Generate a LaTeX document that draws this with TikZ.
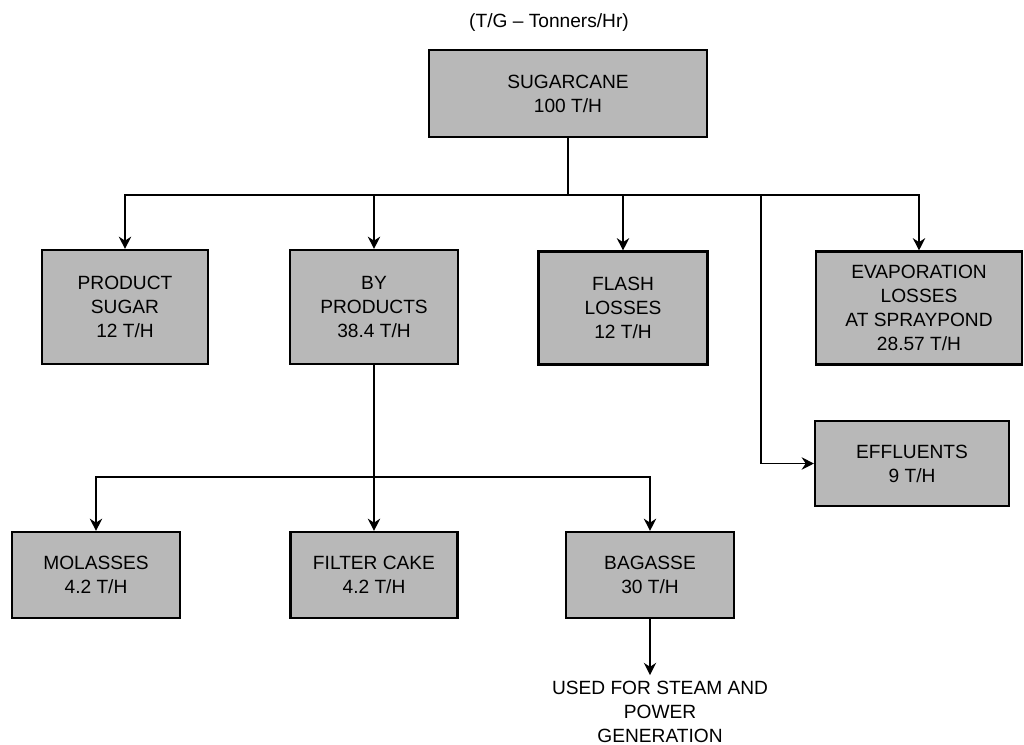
\documentclass[tikz,border=0pt]{standalone}
\usepackage{fontspec}
\setmainfont{Liberation Sans}
\usetikzlibrary{arrows.meta, positioning}

\tikzset{
  flowbox/.style={draw, rectangle, line width=1.2pt, fill=black!28, align=center,
    inner sep=2pt, font=\fontsize{10.9}{13.6}\selectfont},
  flow/.style={-{Stealth[length=7pt, width=7pt]}, line width=1pt},
  link/.style={line width=1pt}
}

\begin{document}
\begin{tikzpicture}[x=0.02cm, y=-0.02cm]
                \useasboundingbox (0,0) rectangle (1024,744);
                % Units header
                \node[font=\fontsize{10.9}{13.6}\selectfont] (units) at (549, 23) {(T/G -- Tonners/Hr)};

                % Feed
                \node[flowbox, minimum width=5.56cm, minimum height=1.74cm] (cane) at (568, 93.5) {SUGARCANE\\100 T/H};

                % First split
                \node[flowbox, minimum width=3.32cm, minimum height=2.28cm] (sugar) at (125, 307) {PRODUCT\\SUGAR\\12 T/H};
                \node[flowbox, minimum width=3.36cm, minimum height=2.28cm] (byprod) at (374, 307) {BY\\PRODUCTS\\38.4 T/H};
                \node[flowbox, minimum width=3.38cm, minimum height=2.26cm] (flash) at (623, 308) {FLASH\\LOSSES\\12 T/H};
                \node[flowbox, minimum width=4.12cm, minimum height=2.26cm] (evap) at (919, 308) {EVAPORATION\\LOSSES\\AT SPRAYPOND\\28.57 T/H};
                \node[flowbox, minimum width=3.88cm, minimum height=1.70cm] (effl) at (912, 463.5) {EFFLUENTS\\9 T/H};

                % By-product split
                \node[flowbox, minimum width=3.36cm, minimum height=1.72cm] (molas) at (96, 575) {MOLASSES\\4.2 T/H};
                \node[flowbox, minimum width=3.34cm, minimum height=1.72cm] (cake) at (374, 575) {FILTER CAKE\\4.2 T/H};
                \node[flowbox, minimum width=3.36cm, minimum height=1.72cm] (bagasse) at (650, 575) {BAGASSE\\30 T/H};
                \node[align=center, font=\fontsize{10.9}{13.6}\selectfont] (use) at (660, 712) {USED FOR STEAM AND\\POWER\\GENERATION};

                \coordinate (bus) at (568, 195);
                \coordinate (tap) at (761, 195);
                \coordinate (bus2) at (374, 477);

                \draw[link] (cane) -- (bus);
                \draw[flow] (bus) -| (sugar);
                \draw[flow] (bus) -| (byprod);
                \draw[flow] (bus) -| (flash);
                \draw[flow] (bus) -| (evap);
                \draw[flow] (tap) |- (effl);

                \draw[link] (byprod) -- (bus2);
                \draw[flow] (bus2) -| (molas);
                \draw[flow] (bus2) -- (cake);
                \draw[flow] (bus2) -| (bagasse);
                \draw[flow] (bagasse) -- (bagasse |- use.north);
            \end{tikzpicture}
\end{document}
